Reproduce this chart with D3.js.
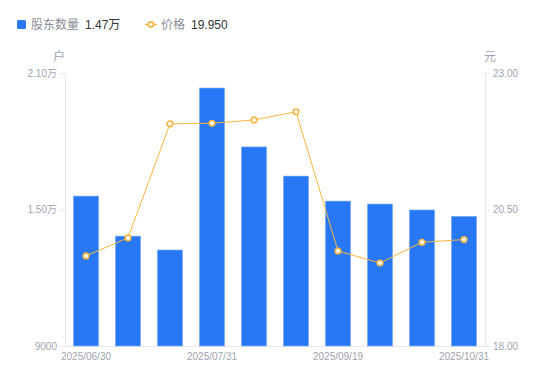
<!DOCTYPE html>
<html>
<head>
<meta charset="utf-8">
<script src="https://cdn.jsdelivr.net/npm/d3@7"></script>
<style>
  body { margin: 0; background: #fff; font-family: "Liberation Sans", "Noto Sans CJK SC", sans-serif; }
  svg text { font-family: "Liberation Sans", "Noto Sans CJK SC", sans-serif; }
  .tick text { fill: #a0a3ad; font-size: 10px; }
</style>
</head>
<body>
<div id="chart"></div>
<script>
const dates = ["2025/06/30", "2025/07/10", "2025/07/20", "2025/07/31", "2025/08/20", "2025/08/31",
               "2025/09/19", "2025/09/30", "2025/10/20", "2025/10/31"];
const holders = [15590, 13830, 13220, 20340, 17750, 16470, 15370, 15240, 14980, 14700];
const prices = [19.65, 19.98, 22.07, 22.08, 22.14, 22.29, 19.74, 19.52, 19.90, 19.95];
const shownDates = ["2025/06/30", "2025/07/31", "2025/09/19", "2025/10/31"];
const leftTicks = [9000, 15000, 21000];
const rightTicks = [18, 20.5, 23];

const width = 550, height = 381;
const margin = { top: 73, right: 65, bottom: 35, left: 65 };

const svg = d3.select('#chart').append('svg')
    .attr('width', width)
    .attr('height', height);

const x = d3.scaleBand()
    .domain(dates)
    .range([margin.left, width - margin.right])
    .paddingInner(0.4)
    .paddingOuter(0.2);

const yL = d3.scaleLinear().domain([9000, 21000]).range([height - margin.bottom, margin.top]);
const yR = d3.scaleLinear().domain([18, 23]).range([height - margin.bottom, margin.top]);

function fmtHolders(d) {
    return d >= 10000 ? (d / 10000).toFixed(2) + "万" : String(d);
}

// axes
const xAxis = svg.append("g")
    .attr("transform", "translate(0," + (height - margin.bottom) + ")")
    .call(d3.axisBottom(x).tickValues(shownDates).tickSize(0).tickPadding(7));
xAxis.select(".domain").attr("stroke", "#e6e6e6");

const leftAxis = svg.append("g")
    .attr("transform", "translate(" + margin.left + ",0)")
    .call(d3.axisLeft(yL).tickValues(leftTicks).tickFormat(fmtHolders).tickSize(5).tickSizeOuter(0).tickPadding(3));
leftAxis.select(".domain").attr("stroke", "#e6e6e6");
leftAxis.selectAll(".tick line").attr("stroke", "#e6e6e6");

const rightAxis = svg.append("g")
    .attr("transform", "translate(" + (width - margin.right) + ",0)")
    .call(d3.axisRight(yR).tickValues(rightTicks).tickFormat(d3.format(".2f")).tickSize(5).tickSizeOuter(0).tickPadding(3));
rightAxis.select(".domain").attr("stroke", "#e6e6e6");
rightAxis.selectAll(".tick line").attr("stroke", "#e6e6e6");

svg.append("text").attr("x", 59).attr("y", 61).attr("text-anchor", "middle")
    .attr("font-size", 12).attr("fill", "#a0a3ad").text("户");
svg.append("text").attr("x", 490).attr("y", 61).attr("text-anchor", "middle")
    .attr("font-size", 12).attr("fill", "#a0a3ad").text("元");

// bars
svg.selectAll(".bar")
    .data(dates)
    .enter().append("rect")
    .attr("class", "bar")
    .attr("x", d => x(d))
    .attr("y", (d, i) => yL(holders[i]))
    .attr("width", x.bandwidth())
    .attr("height", (d, i) => yL(9000) - yL(holders[i]))
    .attr("fill", "#2878f5")
    .attr("stroke", "#7fb0fa")
    .attr("stroke-width", 0.6);

// price line
const cx = d => x(d) + x.bandwidth() / 2;
const line = d3.line()
    .x((d, i) => cx(dates[i]))
    .y(d => yR(d));

svg.append("path")
    .datum(prices)
    .attr("fill", "none")
    .attr("stroke", "#f7b640")
    .attr("stroke-width", 1)
    .attr("d", line);

svg.selectAll(".pt")
    .data(prices)
    .enter().append("circle")
    .attr("class", "pt")
    .attr("cx", (d, i) => cx(dates[i]))
    .attr("cy", d => yR(d))
    .attr("r", 2.8)
    .attr("fill", "#fff")
    .attr("stroke", "#f7b640")
    .attr("stroke-width", 1.6);

// legend
const lg = svg.append("g").attr("font-size", 12);
lg.append("rect").attr("x", 17).attr("y", 20).attr("width", 9).attr("height", 9).attr("rx", 1.5).attr("fill", "#2878f5");
lg.append("text").attr("x", 31).attr("y", 29).attr("fill", "#8a8d96").text("股东数量");
lg.append("text").attr("x", 85).attr("y", 29).attr("fill", "#333").text(fmtHolders(holders[holders.length - 1]));
lg.append("line").attr("x1", 145).attr("x2", 157).attr("y1", 24.5).attr("y2", 24.5)
    .attr("stroke", "#f7b640").attr("stroke-width", 1.5);
lg.append("circle").attr("cx", 151).attr("cy", 24.5).attr("r", 2.6)
    .attr("fill", "#fff").attr("stroke", "#f7b640").attr("stroke-width", 1.6);
lg.append("text").attr("x", 161).attr("y", 29).attr("fill", "#8a8d96").text("价格");
lg.append("text").attr("x", 191).attr("y", 29).attr("fill", "#333").text(prices[prices.length - 1].toFixed(3));
</script>
</body>
</html>
